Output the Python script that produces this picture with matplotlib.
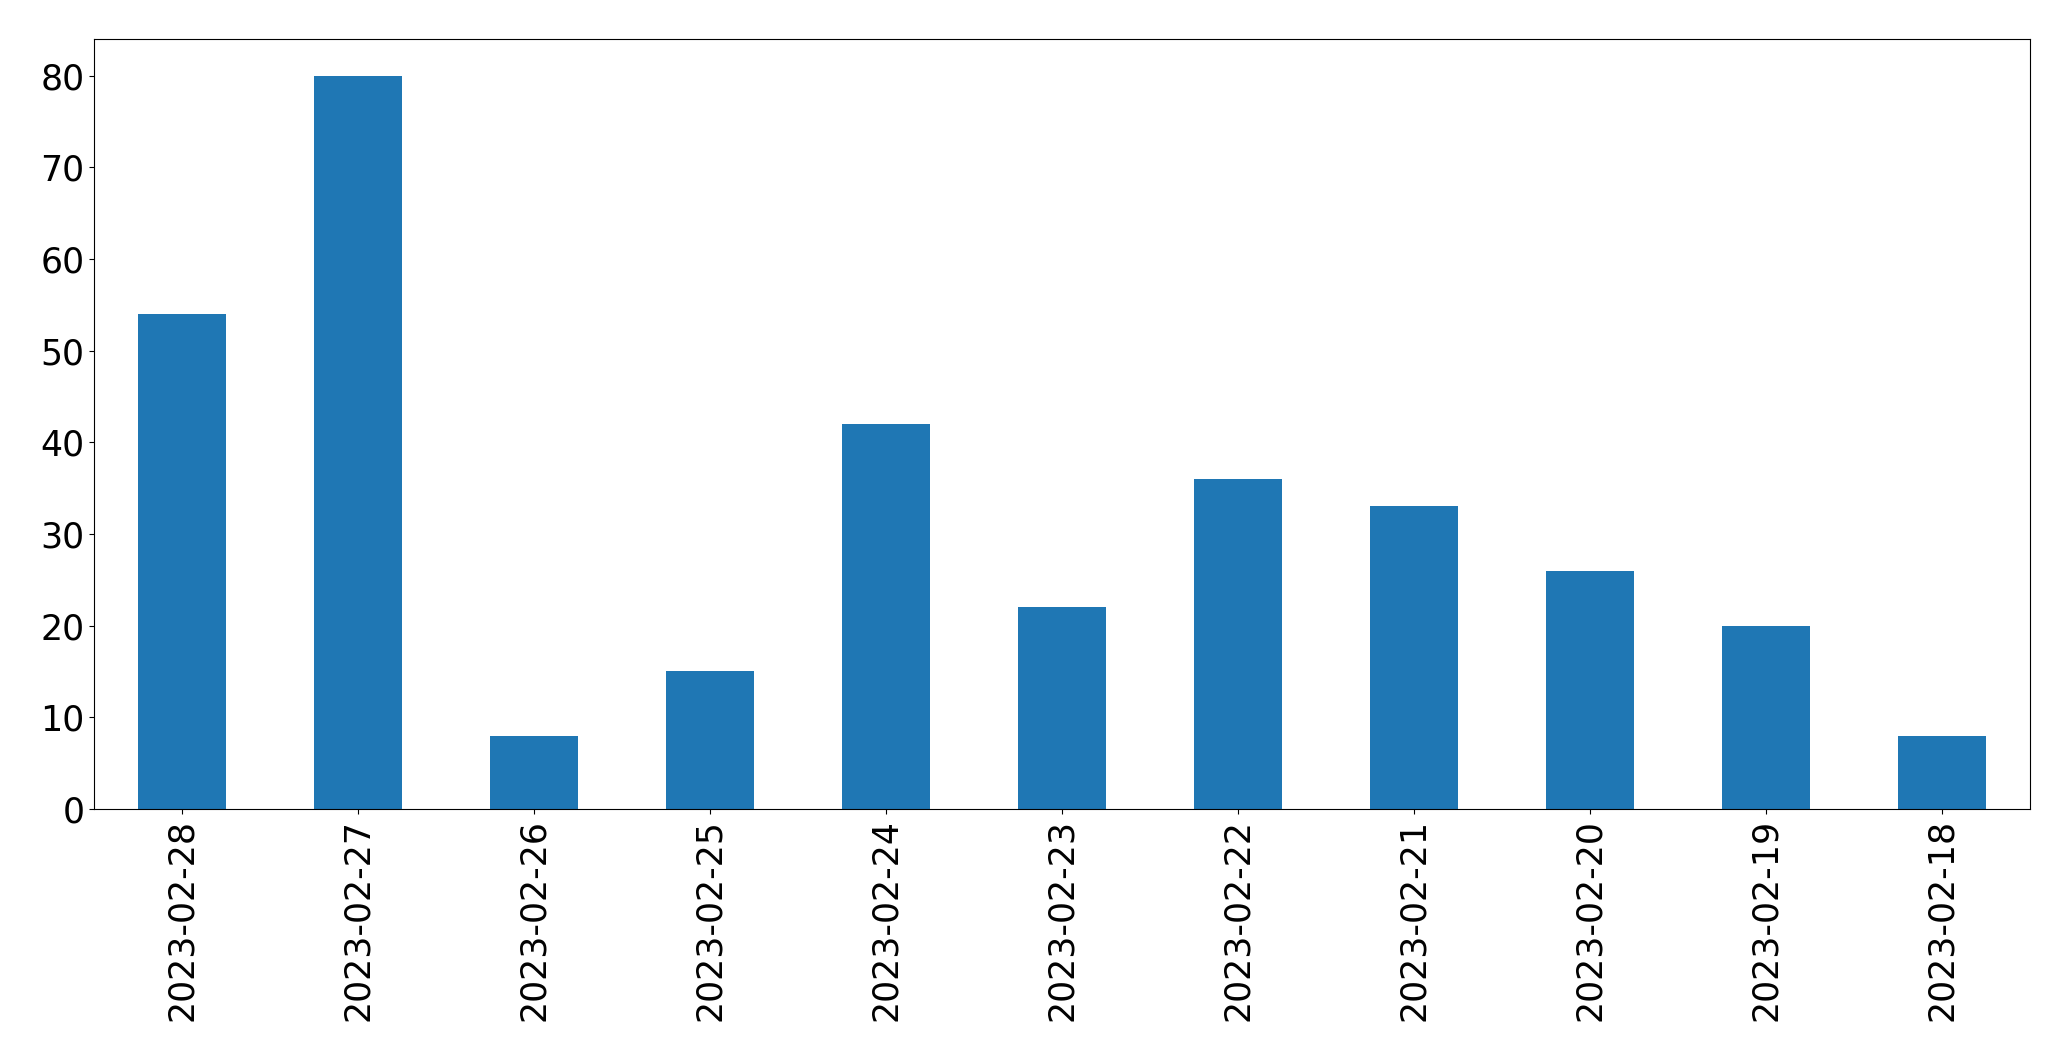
import matplotlib
matplotlib.use("Agg")
import matplotlib.pyplot as plt
import pandas as pd

dates = ["2023-02-28", "2023-02-27", "2023-02-26", "2023-02-25", "2023-02-24",
         "2023-02-23", "2023-02-22", "2023-02-21", "2023-02-20", "2023-02-19",
         "2023-02-18"]
counts = [54, 80, 8, 15, 42, 22, 36, 33, 26, 20, 8]

s = pd.Series(counts, index=dates)
fig = plt.figure(figsize=(20.71, 10.61), dpi=100)
ax = fig.add_axes([0.0455, 0.2375, 0.9345, 0.7258])
s.plot(kind="bar", ax=ax, color="#1f77b4", fontsize=25)
ax.set_yticks([0, 10, 20, 30, 40, 50, 60, 70, 80])
fig.savefig("out.png", dpi=100)
